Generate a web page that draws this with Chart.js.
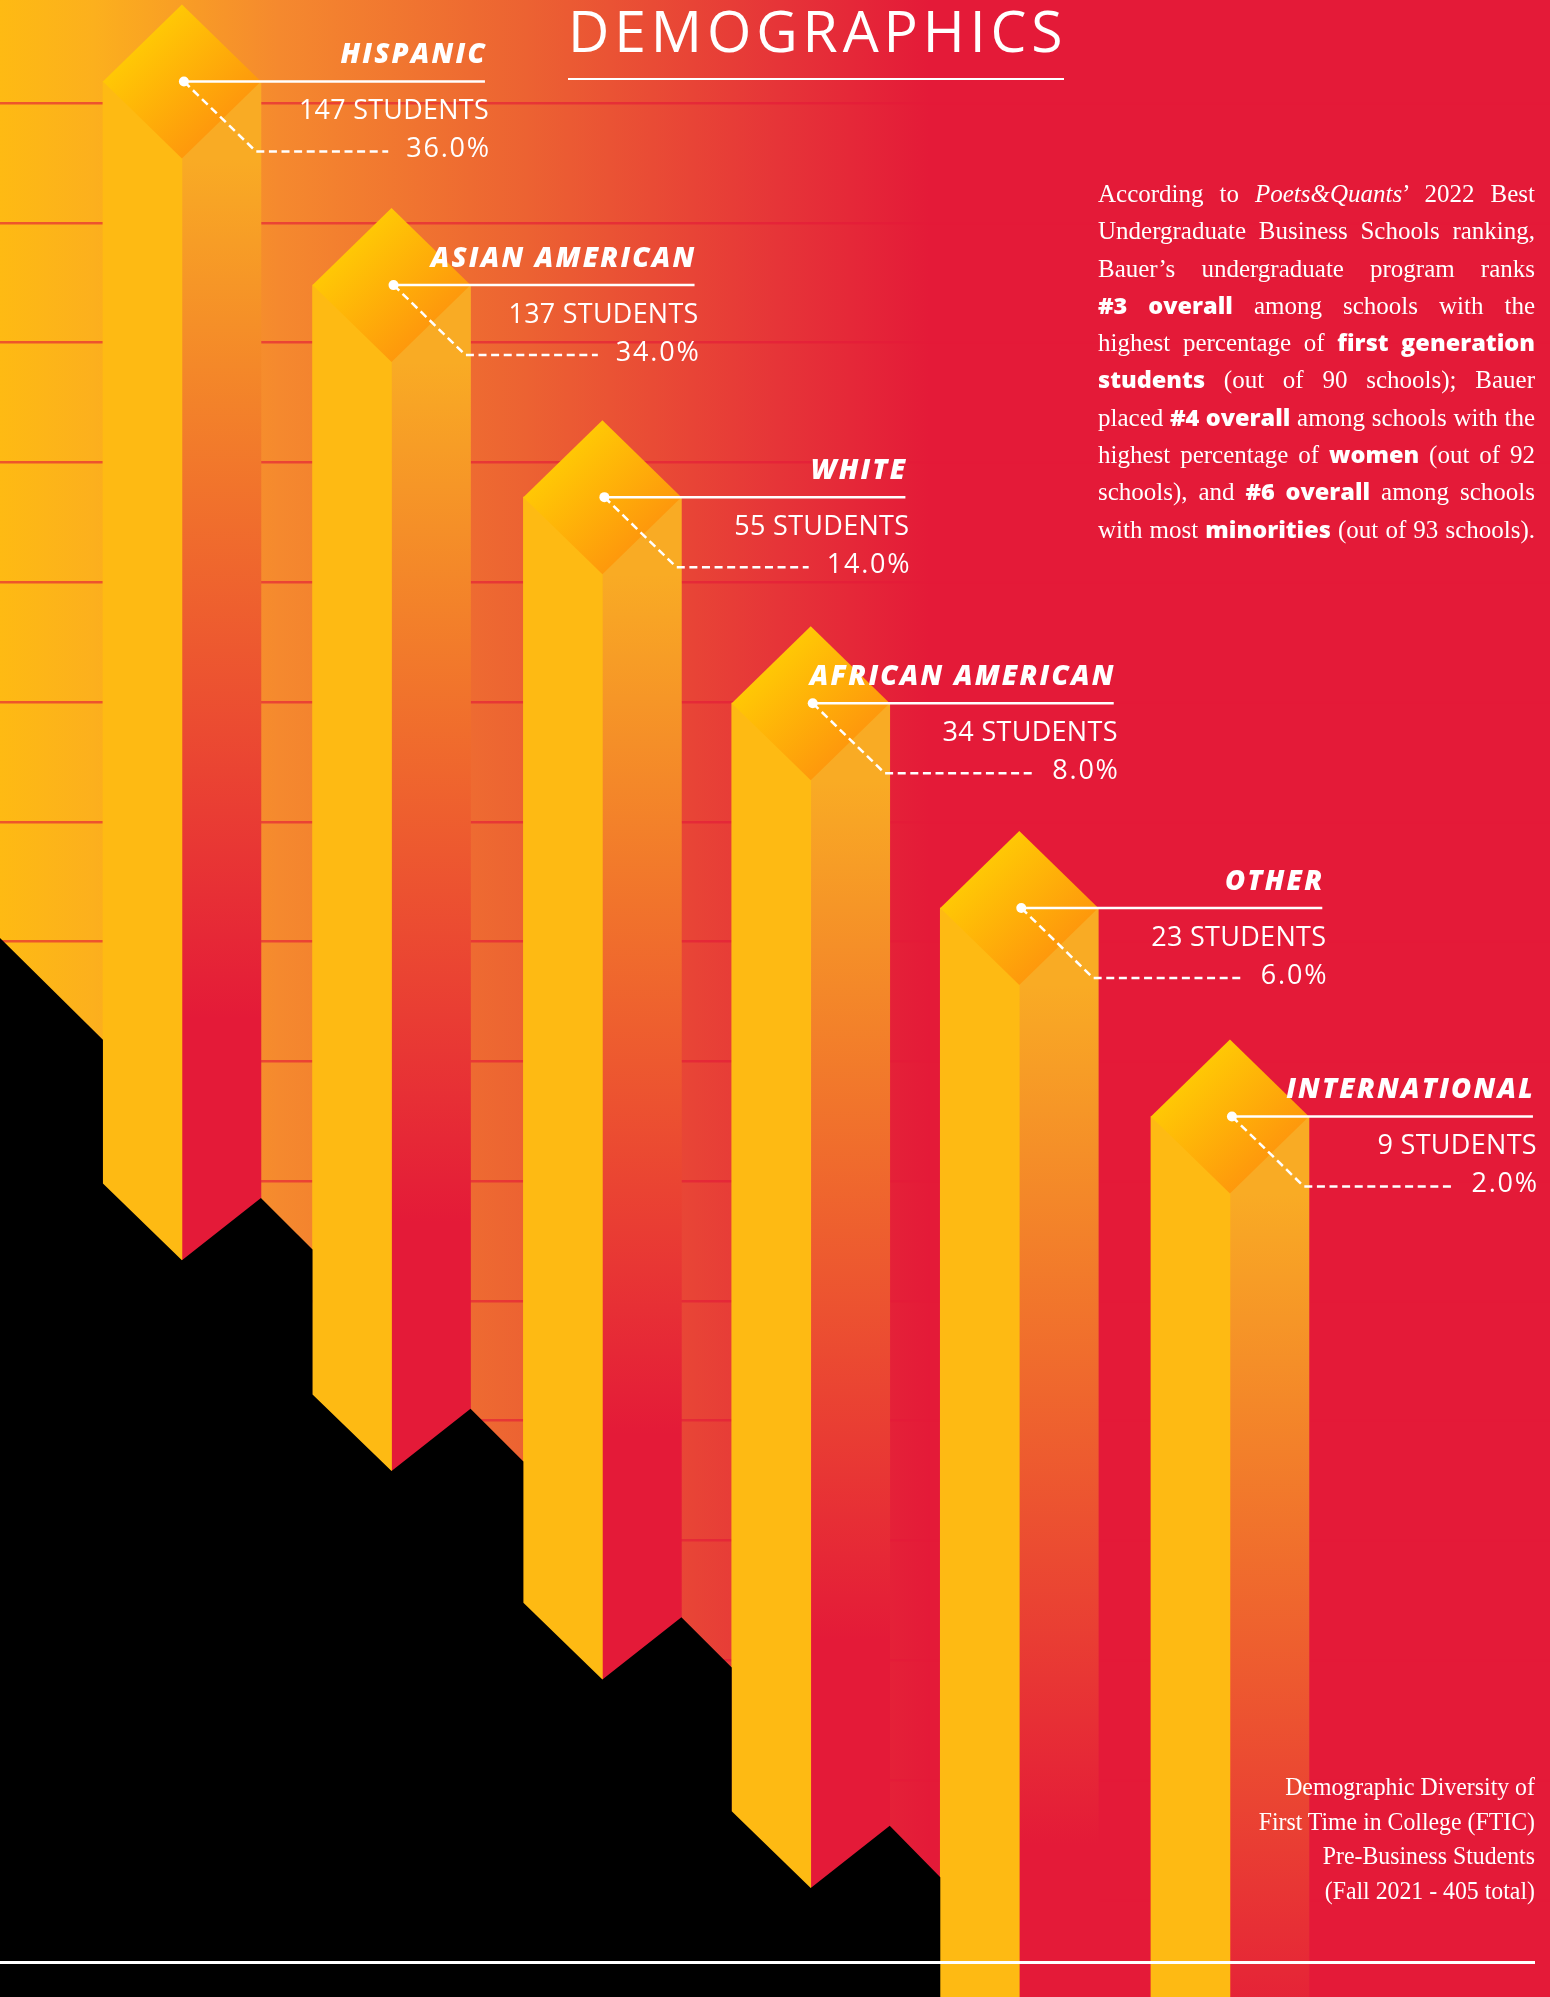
<!DOCTYPE html>
<html>
<head>
<meta charset="utf-8">
<title>Demographics</title>
<script src="https://cdn.jsdelivr.net/npm/chart.js@4"></script>
<style>
    html, body { margin: 0; padding: 0; background: #e41a38; }
    #page { position: relative; width: 1550px; height: 1997px; overflow: hidden; }
    canvas { position: absolute; left: 0; top: 0; }
    #title {
        position: absolute; left: 568px; top: 0; width: 496px; height: 78px;
        border-bottom: 2.5px solid #fff; color: #fff; white-space: nowrap;
        font: 400 57px/60px "Open Sans"; letter-spacing: 4.9px;
    }
    #para {
        position: absolute; left: 1098px; top: 175px; width: 437px; color: #fff;
        font: 25px/37.3px "Liberation Serif";
    }
    #para div { text-align-last: justify; white-space: nowrap; height: 37.3px; }
    #para b { font-family: "Open Sans"; font-weight: 800; font-size: 23.5px; }
    #foot {
        position: absolute; right: 15px; top: 1770px; color: #fff; text-align: right;
        font: 26px/34.5px "Liberation Serif"; white-space: nowrap;
        transform: scaleX(.915); transform-origin: right;
    }
    #rule { position: absolute; left: 0; top: 1961px; width: 1535px; height: 2.5px; background: #fff; }
</style>
</head>
<body>
<div id="page">
    <canvas id="chart" width="1550" height="1997"></canvas>
    <div id="title">DEMOGRAPHICS</div>
    <div id="para">
        <div>According to <i>Poets&amp;Quants</i>’ 2022 Best</div>
        <div>Undergraduate Business Schools ranking,</div>
        <div>Bauer’s undergraduate program ranks</div>
        <div><b>#3 overall</b> among schools with the</div>
        <div>highest percentage of <b>first generation</b></div>
        <div><b>students</b> (out of 90 schools); Bauer</div>
        <div>placed <b>#4 overall</b> among schools with the</div>
        <div>highest percentage of <b>women</b> (out of 92</div>
        <div>schools), and <b>#6 overall</b> among schools</div>
        <div>with most <b>minorities</b> (out of 93 schools).</div>
    </div>
    <div id="foot">
        Demographic Diversity of<br>
        First Time in College (FTIC)<br>
        Pre-Business Students<br>
        (Fall 2021 - 405 total)
    </div>
    <div id="rule"></div>
</div>

<script>
const categories = ['HISPANIC', 'ASIAN AMERICAN', 'WHITE', 'AFRICAN AMERICAN', 'OTHER', 'INTERNATIONAL'];
const students = [147, 137, 55, 34, 23, 9];
const shares = [36.0, 34.0, 14.0, 8.0, 6.0, 2.0];

// column levels, in grid units (one grid line every 10)
const columnSlot = [0, 1, 2.006, 3, 3.995, 5];
const columnTop = [151.8, 134.8, 117.1, 99.9, 82.8, 65.4];
const cornerLeft = [59.8, 42.2, 24.8, 7.4, -12, -12];
const columnTip = [53.4, 35.8, 18.4, 1.0, -12, -12];
const cornerRight = [58.6, 41.0, 23.6, 6.2, -12, -12];
const shadowLevel = [71.8, 54.3, 36.6, 19.4, 1.9];
const shadowStart = 80.3;

const halfWidth = 79;
const diamondHalf = 77;
const fadeLength = 860;

const RED = '#e41a38';
const YELLOW = '#feba13';

// ---------------------------------------------------------->

const backdrop = {
    id: 'backdrop',
    beforeDraw(chart) {
        const { ctx, width, height } = chart;
        const g = ctx.createLinearGradient(0, 0, width, 0);
        g.addColorStop(0, '#feba13');
        g.addColorStop(0.06, '#fcb01d');
        g.addColorStop(0.18, '#f5892e');
        g.addColorStop(0.34, '#ec6232');
        g.addColorStop(0.5, '#e63538');
        g.addColorStop(0.6, RED);
        ctx.fillStyle = g;
        ctx.fillRect(0, 0, width, height);
    },
};

const sideFill = c => {
    // first pass runs before the layout, scales have no pixels yet
    if (c.dataIndex === undefined || !c.chart.chartArea) return RED;
    const top = c.chart.scales.y.getPixelForValue(columnTop[c.dataIndex]) + diamondHalf;
    const g = c.chart.ctx.createLinearGradient(0, top, 0, top + fadeLength);
    g.addColorStop(0, '#f9ab24');
    g.addColorStop(1, RED);
    return g;
};

// black ground under the columns, then the diamond caps and their call-outs
const overlay = {
    id: 'overlay',
    afterDatasetsDraw(chart) {
        const { ctx, scales: { x, y }, chartArea } = chart;

        ctx.save();
        ctx.fillStyle = '#000';
        ctx.beginPath();
        ctx.moveTo(chartArea.left, y.getPixelForValue(shadowStart));
        shadowLevel.forEach((level, i) => {
            const cx = x.getPixelForValue(columnSlot[i]);
            ctx.lineTo(cx - halfWidth, y.getPixelForValue(level));
            if (i < 4) {
                ctx.lineTo(cx - halfWidth, y.getPixelForValue(cornerLeft[i]));
                ctx.lineTo(cx, y.getPixelForValue(columnTip[i]));
                ctx.lineTo(cx + halfWidth, y.getPixelForValue(cornerRight[i]));
            }
        });
        ctx.lineTo(x.getPixelForValue(columnSlot[4]) - halfWidth, chartArea.bottom);
        ctx.lineTo(chartArea.left, chartArea.bottom);
        ctx.closePath();
        ctx.fill();

        categories.forEach((name, i) => {
            const cx = x.getPixelForValue(columnSlot[i]);
            const sy = y.getPixelForValue(columnTop[i]);

            const g = ctx.createLinearGradient(cx - 40, sy - 40, cx + 40, sy + 40);
            g.addColorStop(0, '#ffc805');
            g.addColorStop(1, '#fe980c');
            ctx.fillStyle = g;
            ctx.beginPath();
            ctx.moveTo(cx, sy - diamondHalf);
            ctx.lineTo(cx + halfWidth, sy);
            ctx.lineTo(cx, sy + diamondHalf);
            ctx.lineTo(cx - halfWidth, sy);
            ctx.closePath();
            ctx.fill();

            ctx.strokeStyle = '#fff';
            ctx.fillStyle = '#fff';
            ctx.lineWidth = 2.5;
            ctx.beginPath();
            ctx.moveTo(cx + 2, sy);
            ctx.lineTo(cx + 303, sy);
            ctx.stroke();
            ctx.beginPath();
            ctx.ellipse(cx + 2, sy, 5, 5, 0, 0, Math.PI * 2);
            ctx.fill();

            ctx.textAlign = 'right';
            ctx.textBaseline = 'alphabetic';
            ctx.font = 'italic 800 27.5px "Open Sans"';
            ctx.letterSpacing = '2.2px';
            ctx.fillText(name, cx + 305, sy - 18);
            ctx.font = '27px "Open Sans"';
            ctx.letterSpacing = '0.3px';
            ctx.fillText(students[i] + ' STUDENTS', cx + 307, sy + 38, 190);
            ctx.letterSpacing = '1.8px';
            const share = shares[i].toFixed(1) + '%';
            ctx.fillText(share, cx + 309, sy + 76);
            const shareLeft = cx + 309 - ctx.measureText(share).width;
            ctx.letterSpacing = '0px';

            // dashes run up to the percentage figure
            ctx.setLineDash([8, 4.6]);
            ctx.beginPath();
            ctx.moveTo(cx + 2, sy);
            ctx.lineTo(cx + 74, sy + 70);
            ctx.lineTo(shareLeft - 18, sy + 70);
            ctx.stroke();
            ctx.setLineDash([]);
        });
        ctx.restore();
    },
};

new Chart(document.getElementById('chart'), {
    type: 'bar',
    data: {
        datasets: [
            {
                label: 'Lit side',
                data: categories.map((c, i) => ({ x: columnSlot[i], y: [Math.min(columnTip[i], cornerLeft[i]), columnTop[i]] })),
                backgroundColor: YELLOW,
                barThickness: halfWidth,
            },
            {
                label: 'Shaded side',
                data: categories.map((c, i) => ({ x: columnSlot[i], y: [Math.min(columnTip[i], cornerRight[i]), columnTop[i]] })),
                backgroundColor: sideFill,
                barThickness: halfWidth,
            },
        ],
    },
    plugins: [backdrop, overlay],
    options: {
        responsive: false,
        animation: false,
        devicePixelRatio: 1,
        layout: { padding: 0 },
        plugins: { legend: { display: false }, tooltip: { enabled: false } },
        scales: {
            x: { type: 'linear', offset: false, min: -0.868, max: 6.527, display: false },
            y: {
                min: -8.1,
                max: 158.6,
                ticks: { display: false, stepSize: 10, includeBounds: false },
                grid: { color: 'rgba(228,26,56,.62)', lineWidth: 2.6, drawTicks: false },
                border: { display: false },
            },
        },
    },
});
</script>
</body>
</html>
